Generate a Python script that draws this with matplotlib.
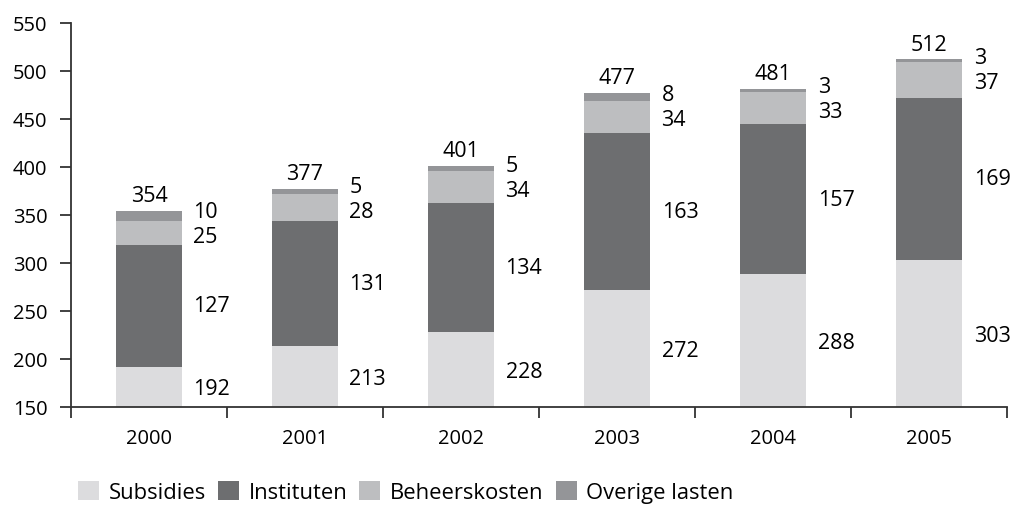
import matplotlib
matplotlib.use("Agg")
import matplotlib.pyplot as plt
import numpy as np
from matplotlib.patches import Patch

plt.rcParams['font.family'] = ['Open Sans', 'DejaVu Sans']

years = ['2000', '2001', '2002', '2003', '2004', '2005']
subsidies = [192, 213, 228, 272, 288, 303]
instituten = [127, 131, 134, 163, 157, 169]
beheerskosten = [25, 28, 34, 34, 33, 37]
overige = [10, 5, 5, 8, 3, 3]
totals = [354, 377, 401, 477, 481, 512]
series_names = ['Subsidies', 'Instituten', 'Beheerskosten', 'Overige lasten']
colors = ['#dcdcde', '#6d6e70', '#bdbec0', '#949598']

fig = plt.figure(figsize=(10.11, 5.06), dpi=100)
ax = fig.add_axes([0.0702, 0.1937, 0.926, 0.759])
ymin, ymax = 150, 550
x = np.arange(len(years))
width = 0.42
series = [subsidies, instituten, beheerskosten, overige]
bottom = np.zeros(len(years))
centers = []
for vals, c in zip(series, colors):
    vals = np.array(vals, dtype=float)
    ax.bar(x, vals, width, bottom=bottom, color=c, zorder=2)
    lo = np.maximum(bottom, ymin)
    hi = bottom + vals
    centers.append((lo + hi) / 2)
    bottom = bottom + vals

fs_lab = 15.5
fs_tick = 14.5
for i in range(len(years)):
    ys = [centers[k][i] for k in range(4)]
    gap = 26
    if ys[3] - ys[2] < gap:
        mid = (ys[3] + ys[2]) / 2
        ys[2] = mid - gap / 2
        ys[3] = mid + gap / 2
    ys[0] -= 2
    for k in range(4):
        ax.text(x[i] + width / 2 + 0.075, ys[k], str(series[k][i]),
                ha='left', va='center', fontsize=fs_lab)
    ax.text(x[i], totals[i] + 5, str(totals[i]), ha='center', va='bottom', fontsize=fs_lab)

ax.set_ylim(ymin, ymax)
ax.set_xlim(-0.5, len(years) - 0.5)
ax.set_yticks(np.arange(150, 551, 50))
ax.set_xticks(np.arange(-0.5, len(years), 1.0))
ax.set_xticklabels([])
ax.set_xticks(x, minor=True)
ax.set_xticklabels(years, minor=True, fontsize=fs_tick)
ax.tick_params(axis='x', which='minor', length=0, pad=15)
ax.tick_params(axis='x', which='major', length=8, width=1.3, color='#333333', direction='out')
ax.tick_params(axis='y', length=8, width=1.3, color='#333333', labelsize=fs_tick, pad=9)
for s in ['top', 'right']:
    ax.spines[s].set_visible(False)
for s in ['left', 'bottom']:
    ax.spines[s].set_linewidth(1.3)
    ax.spines[s].set_color('#333333')

handles = [Patch(facecolor=c, edgecolor='none') for c in colors]
fig.legend(handles, series_names, loc='lower left', bbox_to_anchor=(0.064, -0.022),
           ncol=4, frameon=False, fontsize=15.8, handlelength=0.95, handleheight=0.95,
           handletextpad=0.45, columnspacing=0.55, borderaxespad=0.2)

fig.savefig('out.png', dpi=100)
